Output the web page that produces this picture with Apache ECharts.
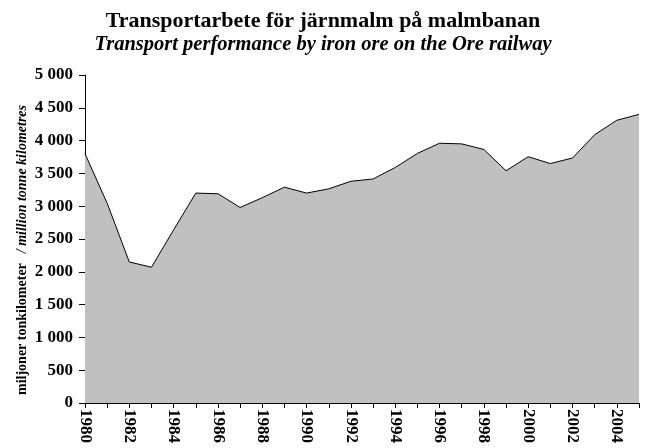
<!DOCTYPE html>
<html>
<head>
<meta charset="utf-8">
<script src="https://cdn.jsdelivr.net/npm/echarts@6/dist/echarts.min.js"></script>
<style>
  html, body { margin: 0; padding: 0; background: #fff; }
  #chart { width: 646px; height: 448px; }
</style>
</head>
<body>
<div id="chart"></div>
<script>
const years = ['1980','1981','1982','1983','1984','1985','1986','1987','1988','1989',
  '1990','1991','1992','1993','1994','1995','1996','1997','1998','1999',
  '2000','2001','2002','2003','2004','2005']
const tonneKm = [3800, 3045, 2150, 2070, 2640, 3200, 3190, 2980, 3130, 3290,
  3200, 3265, 3380, 3415, 3590, 3805, 3960, 3950, 3865, 3540,
  3755, 3650, 3735, 4090, 4310, 4400]

const titleSv = 'Transportarbete för järnmalm på malmbanan'
const titleEn = 'Transport performance by iron ore on the Ore railway'
const yNameSv = 'miljoner tonkilometer'
const yNameEn = '/ million tonne kilometres'

const SERIF = '"Liberation Serif", "Times New Roman", serif'

function fmtThousands(v) {
  return String(v).replace(/\B(?=(\d{3})+(?!\d))/g, ' ')
}

const chart = echarts.init(document.getElementById('chart'))
chart.setOption({
  animation: false,
  title: {
    text: titleSv + '\n{i|' + titleEn + '}',
    left: 'center',
    top: 5,
    textStyle: {
      fontFamily: SERIF, fontWeight: 'bold', fontSize: 22, color: '#000', lineHeight: 23,
      rich: { i: { fontFamily: SERIF, fontWeight: 'bold', fontStyle: 'italic', fontSize: 20.5, color: '#000', lineHeight: 23 } }
    }
  },
  grid: { left: 85, right: 7, top: 75, bottom: 45, containLabel: false },
  xAxis: {
    type: 'category',
    data: years,
    boundaryGap: false,
    axisLine: { lineStyle: { color: '#000', width: 1 } },
    axisTick: { show: true, inside: false, length: 5, interval: 0, lineStyle: { color: '#000' } },
    axisLabel: {
      interval: 1, rotate: -90, margin: 6,
      fontFamily: SERIF, fontWeight: 'bold', fontSize: 17, color: '#000'
    },
    splitLine: { show: false }
  },
  yAxis: {
    type: 'value',
    min: 0, max: 5000, interval: 500,
    name: '{a|' + yNameSv + '}   {b|' + yNameEn + '}',
    nameLocation: 'middle',
    nameGap: 56,
    nameMoveOverlap: false,
    nameRotate: 90,
    nameTextStyle: {
      rich: {
        a: { fontFamily: SERIF, fontWeight: 'bold', fontSize: 14, color: '#000' },
        b: { fontFamily: SERIF, fontWeight: 'bold', fontStyle: 'italic', fontSize: 14, color: '#000', padding: [0, 22, 0, 0] }
      }
    },
    axisLine: { show: true, lineStyle: { color: '#000', width: 1 } },
    axisTick: { show: true, inside: false, length: 6, lineStyle: { color: '#000' } },
    axisLabel: {
      margin: 12, formatter: fmtThousands,
      fontFamily: SERIF, fontWeight: 'bold', fontSize: 17, color: '#000'
    },
    splitLine: { show: false }
  },
  series: [{
    type: 'line',
    data: tonneKm,
    symbol: 'none',
    lineStyle: { color: '#000', width: 1 },
    areaStyle: { color: '#c0c0c0', opacity: 1 }
  }]
})
</script>
</body>
</html>
